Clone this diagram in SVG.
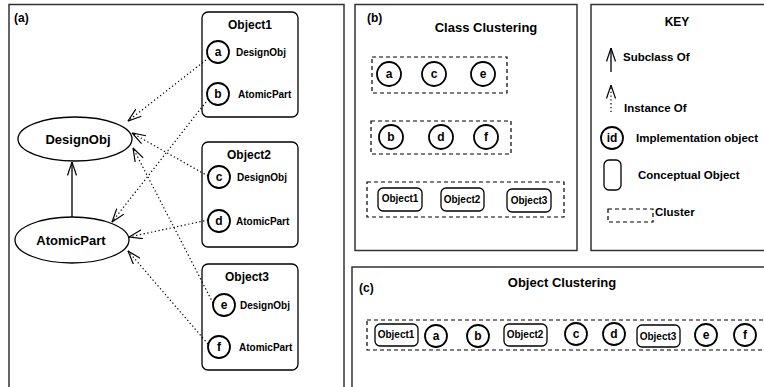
<svg xmlns="http://www.w3.org/2000/svg" width="764" height="387" viewBox="0 0 764 387">
<defs>
<style>
.panel{fill:#fff;stroke:#333;stroke-width:1.5}
.obj{fill:#fff;stroke:#000;stroke-width:1.3}
.circ{fill:#fff;stroke:#000;stroke-width:1.8}
.ell{fill:#fff;stroke:#000;stroke-width:1.3}
.dash{fill:none;stroke:#000;stroke-width:1.2;stroke-dasharray:4 3}
.dot{fill:none;stroke:#000;stroke-width:1.2;stroke-dasharray:1.3 2.5}
.solid{fill:none;stroke:#000;stroke-width:1.3}
text{font-family:"Liberation Sans",Arial,sans-serif;font-weight:bold;fill:#000}
.t13{font-size:13px}
.t12{font-size:12px}
.t11{font-size:11px}
.tk{font-size:11.5px}
.t10{font-size:10px}
.mid{text-anchor:middle}
</style>
<marker id="openArrow" viewBox="0 0 14 10" refX="13.5" refY="5" markerWidth="14" markerHeight="10" orient="auto" markerUnits="userSpaceOnUse">
<path d="M0,0.5 L13.5,5 L0,9.5" fill="none" stroke="#000" stroke-width="1.2"/>
</marker>
</defs>

<g id="panel-a">
<rect class="panel" x="9" y="4.5" width="335" height="390"/>
<text class="t12" x="14" y="22">(a)</text>
</g>
<g id="panel-b">
<rect class="panel" x="355" y="4.5" width="222" height="246"/>
<text class="t12" x="367" y="22">(b)</text>
<text class="t13 mid" x="486" y="32">Class Clustering</text>
</g>
<g id="panel-key">
<rect class="panel" x="591" y="4.5" width="180" height="246"/>
<text class="t12 mid" x="677" y="26">KEY</text>
</g>
<g id="panel-c">
<rect class="panel" x="352" y="267" width="420" height="130"/>
<text class="t12" x="359" y="292">(c)</text>
<text class="t13 mid" x="562" y="287">Object Clustering</text>
</g>

<g id="DesignObj">
<ellipse class="ell" cx="75" cy="139" rx="57" ry="22"/>
<text class="t13 mid" x="78" y="144">DesignObj</text>
</g>
<g id="AtomicPart">
<ellipse class="ell" cx="72" cy="240" rx="57" ry="23"/>
<text class="t13 mid" x="71" y="245">AtomicPart</text>
</g>

<g id="Object1">
<rect class="obj" x="202" y="12" width="96" height="105" rx="6"/>
<text class="t12 mid" x="250" y="29">Object1</text>
<circle class="circ" cx="218" cy="52" r="11"/>
<text class="t12 mid" x="218" y="56">a</text>
<text class="t10" x="236" y="56">DesignObj</text>
<circle class="circ" cx="218" cy="94" r="11"/>
<text class="t12 mid" x="218" y="98">b</text>
<text class="t10" x="238" y="98">AtomicPart</text>
</g>
<g id="Object2">
<rect class="obj" x="202" y="142" width="96" height="105" rx="6"/>
<text class="t12 mid" x="249" y="159">Object2</text>
<circle class="circ" cx="219" cy="177" r="11"/>
<text class="t12 mid" x="219" y="181">c</text>
<text class="t10" x="237" y="181">DesignObj</text>
<circle class="circ" cx="219" cy="221" r="11"/>
<text class="t12 mid" x="219" y="225">d</text>
<text class="t10" x="236" y="225">AtomicPart</text>
</g>
<g id="Object3">
<rect class="obj" x="202" y="264" width="96" height="106" rx="6"/>
<text class="t12 mid" x="247" y="281">Object3</text>
<circle class="circ" cx="224" cy="305" r="11"/>
<text class="t12 mid" x="224" y="309">e</text>
<text class="t10" x="240" y="309">DesignObj</text>
<circle class="circ" cx="219" cy="347" r="11"/>
<text class="t12 mid" x="219" y="351">f</text>
<text class="t10" x="239" y="351">AtomicPart</text>
</g>

<g id="connectors">
<line class="solid" x1="72" y1="217" x2="72" y2="162" marker-end="url(#openArrow)"/>
<line class="dot" x1="206" y1="60" x2="128" y2="121" marker-end="url(#openArrow)"/>
<line class="dot" x1="206" y1="102" x2="112" y2="222" marker-end="url(#openArrow)"/>
<line class="dot" x1="208" y1="176" x2="132" y2="133" marker-end="url(#openArrow)"/>
<line class="dot" x1="208" y1="220" x2="129" y2="237" marker-end="url(#openArrow)"/>
<line class="dot" x1="213" y1="303" x2="133" y2="148" marker-end="url(#openArrow)"/>
<line class="dot" x1="208" y1="344" x2="128" y2="251" marker-end="url(#openArrow)"/>
</g>

<g id="class-clusters">
<rect class="dash" x="372" y="57" width="135" height="36"/>
<circle class="circ" cx="389" cy="74" r="12"/><text class="t12 mid" x="389" y="78">a</text>
<circle class="circ" cx="434" cy="74" r="12"/><text class="t12 mid" x="434" y="78">c</text>
<circle class="circ" cx="483" cy="74" r="12"/><text class="t12 mid" x="483" y="78">e</text>
<rect class="dash" x="371" y="121" width="140" height="33"/>
<circle class="circ" cx="391" cy="137" r="12"/><text class="t12 mid" x="391" y="141">b</text>
<circle class="circ" cx="441" cy="137" r="12"/><text class="t12 mid" x="441" y="141">d</text>
<circle class="circ" cx="486" cy="137" r="12"/><text class="t12 mid" x="486" y="141">f</text>
<rect class="dash" x="367" y="182" width="197" height="35"/>
<rect class="obj" x="378" y="188" width="44" height="23" rx="5"/><text class="t10 mid" x="400" y="202">Object1</text>
<rect class="obj" x="441" y="188" width="43" height="23" rx="5"/><text class="t10 mid" x="462" y="203">Object2</text>
<rect class="obj" x="507" y="189" width="44" height="23" rx="5"/><text class="t10 mid" x="529" y="204">Object3</text>
</g>

<g id="key-items">
<line class="solid" x1="611" y1="72" x2="611" y2="48" marker-end="url(#openArrow)"/>
<text class="tk" x="623" y="61">Subclass Of</text>
<line class="dot" x1="611" y1="112" x2="611" y2="85" marker-end="url(#openArrow)"/>
<text class="tk" x="624" y="112">Instance Of</text>
<circle class="circ" cx="612" cy="138" r="11"/><text class="t12 mid" x="612" y="142">id</text>
<text class="tk" x="636" y="142">Implementation object</text>
<rect class="obj" x="604" y="160" width="17" height="30" rx="5"/>
<text class="tk" x="638" y="179">Conceptual Object</text>
<rect class="dash" x="608" y="209" width="45" height="13"/>
<text class="tk" x="655" y="216">Cluster</text>
</g>

<g id="object-cluster">
<rect class="dash" x="367" y="320" width="410" height="30"/>
<rect class="obj" x="375" y="324" width="43" height="22" rx="5"/><text class="t10 mid" x="396" y="338">Object1</text>
<circle class="circ" cx="436" cy="336" r="11"/><text class="t12 mid" x="436" y="340">a</text>
<circle class="circ" cx="478" cy="336" r="11"/><text class="t12 mid" x="478" y="340">b</text>
<rect class="obj" x="504" y="324" width="43" height="22" rx="5"/><text class="t10 mid" x="525" y="338">Object2</text>
<circle class="circ" cx="576" cy="334" r="11"/><text class="t12 mid" x="576" y="338">c</text>
<circle class="circ" cx="614" cy="334" r="11"/><text class="t12 mid" x="614" y="338">d</text>
<rect class="obj" x="637" y="325" width="43" height="22" rx="5"/><text class="t10 mid" x="658" y="340">Object3</text>
<circle class="circ" cx="706" cy="335" r="11"/><text class="t12 mid" x="706" y="339">e</text>
<circle class="circ" cx="745" cy="335" r="11"/><text class="t12 mid" x="745" y="339">f</text>
</g>
</svg>
